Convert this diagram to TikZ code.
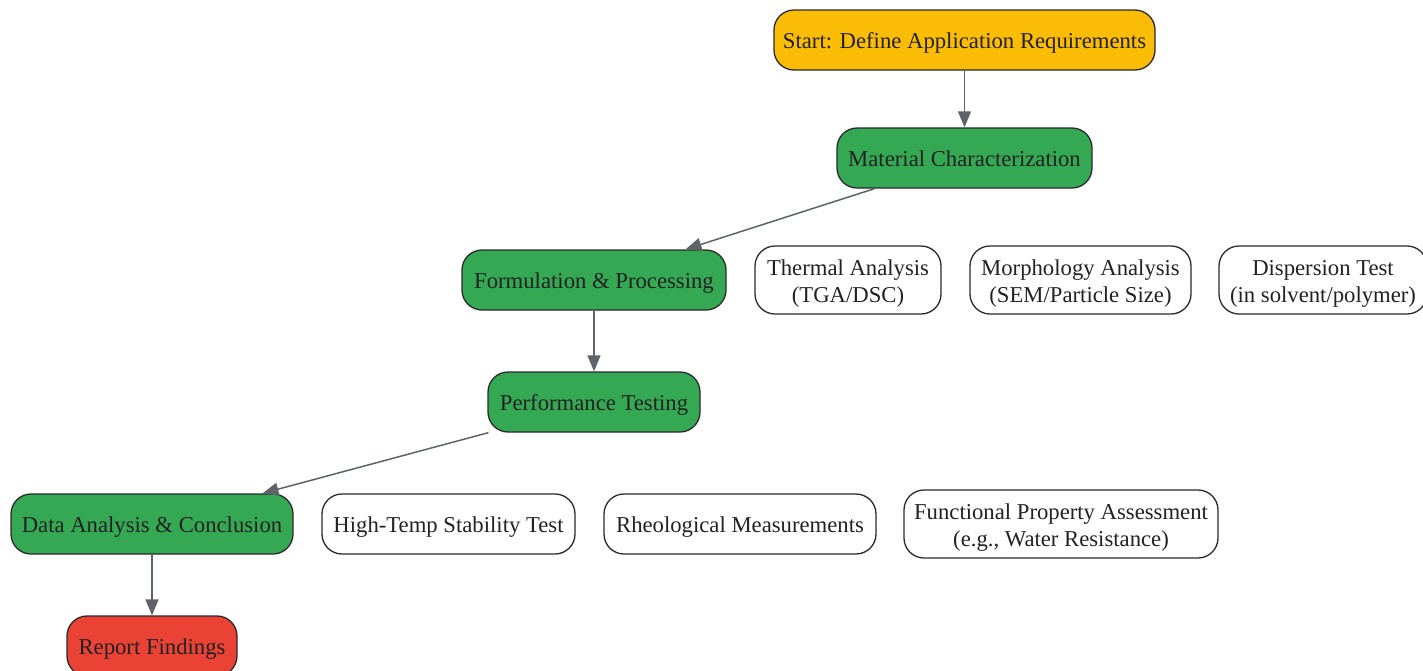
\documentclass[tikz,border=0pt]{standalone}
\usepackage{fontspec}
\setmainfont{Liberation Serif}
\usetikzlibrary{arrows.meta,calc}
\definecolor{startc}{HTML}{FBBC05}
\definecolor{greenc}{HTML}{34A853}
\definecolor{redc}{HTML}{EA4335}
\definecolor{txtc}{HTML}{222222}
\definecolor{edgec}{HTML}{5F6368}
\definecolor{borderc}{HTML}{2A2A2A}
\tikzset{
  box/.style={draw=borderc, line width=1.3pt, rounded corners=20pt, align=center,
    text=txtc, font=\fontsize{22.7}{27}\selectfont, inner sep=0pt, minimum height=60pt,
    text height=17pt, text depth=0pt},
  subbox/.style={box, fill=white, minimum height=68pt, text height=45pt, text depth=0pt},
  flow/.style={draw=edgec, line width=1.5pt, -{Triangle[length=16pt,width=13pt]}}
}
\begin{document}
\begin{tikzpicture}[x=1pt,y=-1pt]
\useasboundingbox (0,0) rectangle (1423,670);
\node[box, fill=startc, minimum width=381pt] (start) at (964.5,40) {Start: Define Application Requirements};
\node[box, fill=greenc, minimum width=255pt] (mat) at (964.5,158) {Material Characterization};
\node[box, fill=greenc, minimum width=264pt] (form) at (594,280) {Formulation \& Processing};
\node[subbox, minimum width=186pt] (therm) at (848,280) {Thermal Analysis\\(TGA/DSC)};
\node[subbox, minimum width=221pt] (morph) at (1080.5,280) {Morphology Analysis\\(SEM/Particle Size)};
\node[subbox, minimum width=208pt] (disp) at (1323,280) {Dispersion Test\\(in solvent/polymer)};
\node[box, fill=greenc, minimum width=212pt] (perf) at (594,402) {Performance Testing};
\node[box, fill=greenc, minimum width=282pt] (data) at (152,524) {Data Analysis \& Conclusion};
\node[box, fill=white, minimum width=253pt] (htemp) at (448.5,524) {High-Temp Stability Test};
\node[box, fill=white, minimum width=272pt] (rheo) at (740,524) {Rheological Measurements};
\node[subbox, minimum width=314pt] (func) at (1061,524) {Functional Property Assessment\\(e.g., Water Resistance)};
\node[box, fill=redc, minimum width=170pt] (rep) at (152,646) {Report Findings};
\draw[flow] (start) -- (mat);
\draw[flow] ($(mat.south west)!0.149!(mat.south east)$) -- ($(form.north west)!0.845!(form.north east)$);
\draw[flow] (form) -- (perf);
\draw[flow] ($(perf.south west)!0.005!(perf.south east)$) -- ($(data.north west)!0.89!(data.north east)$);
\draw[flow] (data) -- (rep);
\end{tikzpicture}
\end{document}
